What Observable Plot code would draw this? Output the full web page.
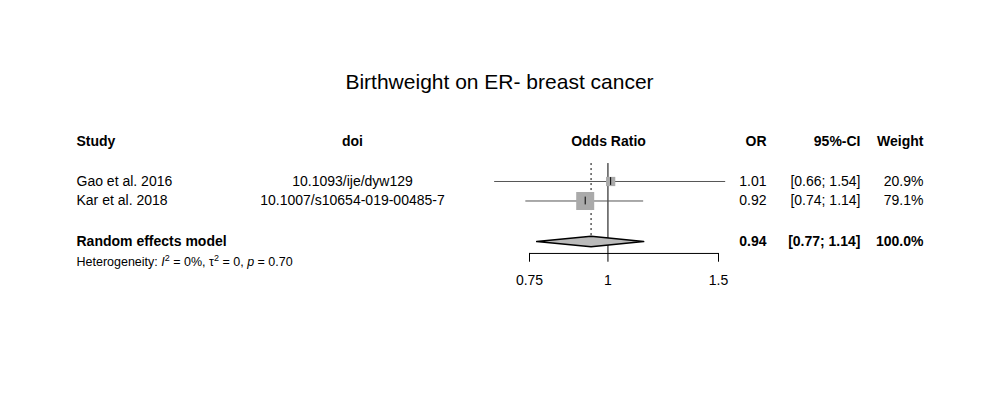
<!DOCTYPE html>
<html>
<head>
<script src="https://cdn.jsdelivr.net/npm/d3@7"></script>
<script src="https://cdn.jsdelivr.net/npm/@observablehq/plot@0.6"></script>
<style>body{margin:0;background:#fff}</style>
</head>
<body>
<div id="chart"></div>
<script>
const studies = ['Gao et al. 2016', 'Kar et al. 2018'];
const dois = ['10.1093/ije/dyw129', '10.1007/s10654-019-00485-7'];
const or = [1.01, 0.92];
const lower = [0.66, 0.74];
const upper = [1.54, 1.14];
const weight = [20.9, 79.1];
const pooled = {or: 0.94, lower: 0.77, upper: 1.14, label: 'Random effects model', weight: '100.0%'};
const ticks = [0.75, 1, 1.5];

// row layout (row units, 19.5 px each)
const rowTitle = -4.08, rowHead = -1.05, rowRE = 4.08, rowHet = 5.15, rowAxis = 4.69, rowTick = 6.08;
const rows = studies.map((s, i) => ({
  study: s, doi: dois[i], or: or[i], lo: lower[i], hi: upper[i], w: weight[i], row: i + 1,
  orTxt: or[i].toFixed(2),
  ci: `[${lower[i].toFixed(2)}; ${upper[i].toFixed(2)}]`,
  wTxt: weight[i].toFixed(1) + '%'
}));
const maxW = d3.max(weight);
const diamond = [
  {x: pooled.lower, y: rowRE}, {x: pooled.or, y: rowRE - 0.27},
  {x: pooled.upper, y: rowRE}, {x: pooled.or, y: rowRE + 0.27}, {x: pooled.lower, y: rowRE}
];
const L = 529; // frame left in px
const col = (dx, anchor) => ({frameAnchor: 'left', dx: dx - L, textAnchor: anchor});

const headers = [
  {t: 'Study', dx: 76, a: 'start'}, {t: 'doi', dx: 352, a: 'middle'},
  {t: 'Odds Ratio', dx: 608, a: 'middle'}, {t: 'OR', dx: 766, a: 'end'},
  {t: '95%-CI', dx: 860, a: 'end'}, {t: 'Weight', dx: 923, a: 'end'}
];

const chart = Plot.plot({
  width: 1000, height: 400,
  marginLeft: L, marginRight: 282, marginTop: 0, marginBottom: 0,
  style: {fontFamily: 'Liberation Sans, Arial, sans-serif', fontSize: '14px'},
  x: {type: 'log', domain: [0.75, 1.5], axis: null},
  y: {domain: [-8.282, 12.231], reverse: true, axis: null},
  r: {type: 'identity'},
  marks: [
    Plot.text(['Birthweight on ER- breast cancer'], {frameAnchor: 'left', dx: 499 - L, y: () => rowTitle, text: d => d, textAnchor: 'middle', fontSize: 21}),
    ...headers.map(h => Plot.text([h], {y: () => rowHead, text: d => d.t, ...col(h.dx, h.a), fontWeight: 'bold'})),
    Plot.text(rows, {y: 'row', text: 'study', ...col(76, 'start')}),
    Plot.text(rows, {y: 'row', text: 'doi', ...col(352, 'middle')}),
    Plot.text(rows, {y: 'row', text: 'orTxt', ...col(766, 'end')}),
    Plot.text(rows, {y: 'row', text: 'ci', ...col(860, 'end')}),
    Plot.text(rows, {y: 'row', text: 'wTxt', ...col(923, 'end')}),
    Plot.text([pooled], {y: () => rowRE, text: 'label', ...col(76, 'start'), fontWeight: 'bold'}),
    Plot.text([pooled], {y: () => rowRE, text: d => d.or.toFixed(2), ...col(766, 'end'), fontWeight: 'bold'}),
    Plot.text([pooled], {y: () => rowRE, text: d => `[${d.lower.toFixed(2)}; ${d.upper.toFixed(2)}]`, ...col(860, 'end'), fontWeight: 'bold'}),
    Plot.text([pooled], {y: () => rowRE, text: 'weight', ...col(923, 'end'), fontWeight: 'bold'}),
    Plot.text(['Heterogeneity'], {y: () => rowHet, text: d => d, ...col(76, 'start'), fontSize: 12.5, className: 'het'}),
    // reference lines
    Plot.ruleX([1], {x: d => d, y1: () => 0.08, y2: () => rowAxis, stroke: 'black'}),
    Plot.ruleX([pooled.or], {x: d => d, y1: () => 0.08, y2: () => rowRE - 0.27, stroke: 'black', strokeDasharray: '2,3'}),
    // CIs
    Plot.ruleY(rows, {y: 'row', x1: 'lo', x2: 'hi', stroke: '#555'}),
    Plot.dot(rows, {x: 'or', y: 'row', symbol: 'square', r: d => 18 * Math.sqrt(d.w / maxW) / Math.sqrt(Math.PI), fill: '#aaa', stroke: 'none'}),
    Plot.ruleX(rows, {x: 'or', y1: d => d.row - 0.2, y2: d => d.row + 0.2, stroke: 'black'}),
    Plot.line(diamond, {x: 'x', y: 'y', fill: '#bbb', stroke: 'black'}),
    // axis
    Plot.ruleY([rowAxis], {y: d => d, x1: () => ticks[0], x2: () => ticks[ticks.length - 1], stroke: 'black'}),
    Plot.ruleX(ticks, {x: d => d, y1: () => rowAxis, y2: () => rowAxis + 0.45, stroke: 'black'}),
    Plot.text(ticks, {x: d => d, y: () => rowTick, text: d => String(d)})
  ]
});
// heterogeneity with italics and superscripts
const het = d3.select(chart).select('.het text');
if (!het.empty()) {
  het.text(null);
  [['Heterogeneity: ', ''], ['I', 'i'], ['2', 's'], [' = 0%, τ', ''], ['2', 's'], [' = 0, ', ''], ['p', 'i'], [' = 0.70', '']].forEach(([t, k]) => {
    const ts = het.append('tspan').text(t);
    if (k === 'i') ts.attr('font-style', 'italic');
    if (k === 's') ts.attr('baseline-shift', 'super').attr('font-size', '9px');
  });
}
document.getElementById('chart').append(chart);
</script>
</body>
</html>
